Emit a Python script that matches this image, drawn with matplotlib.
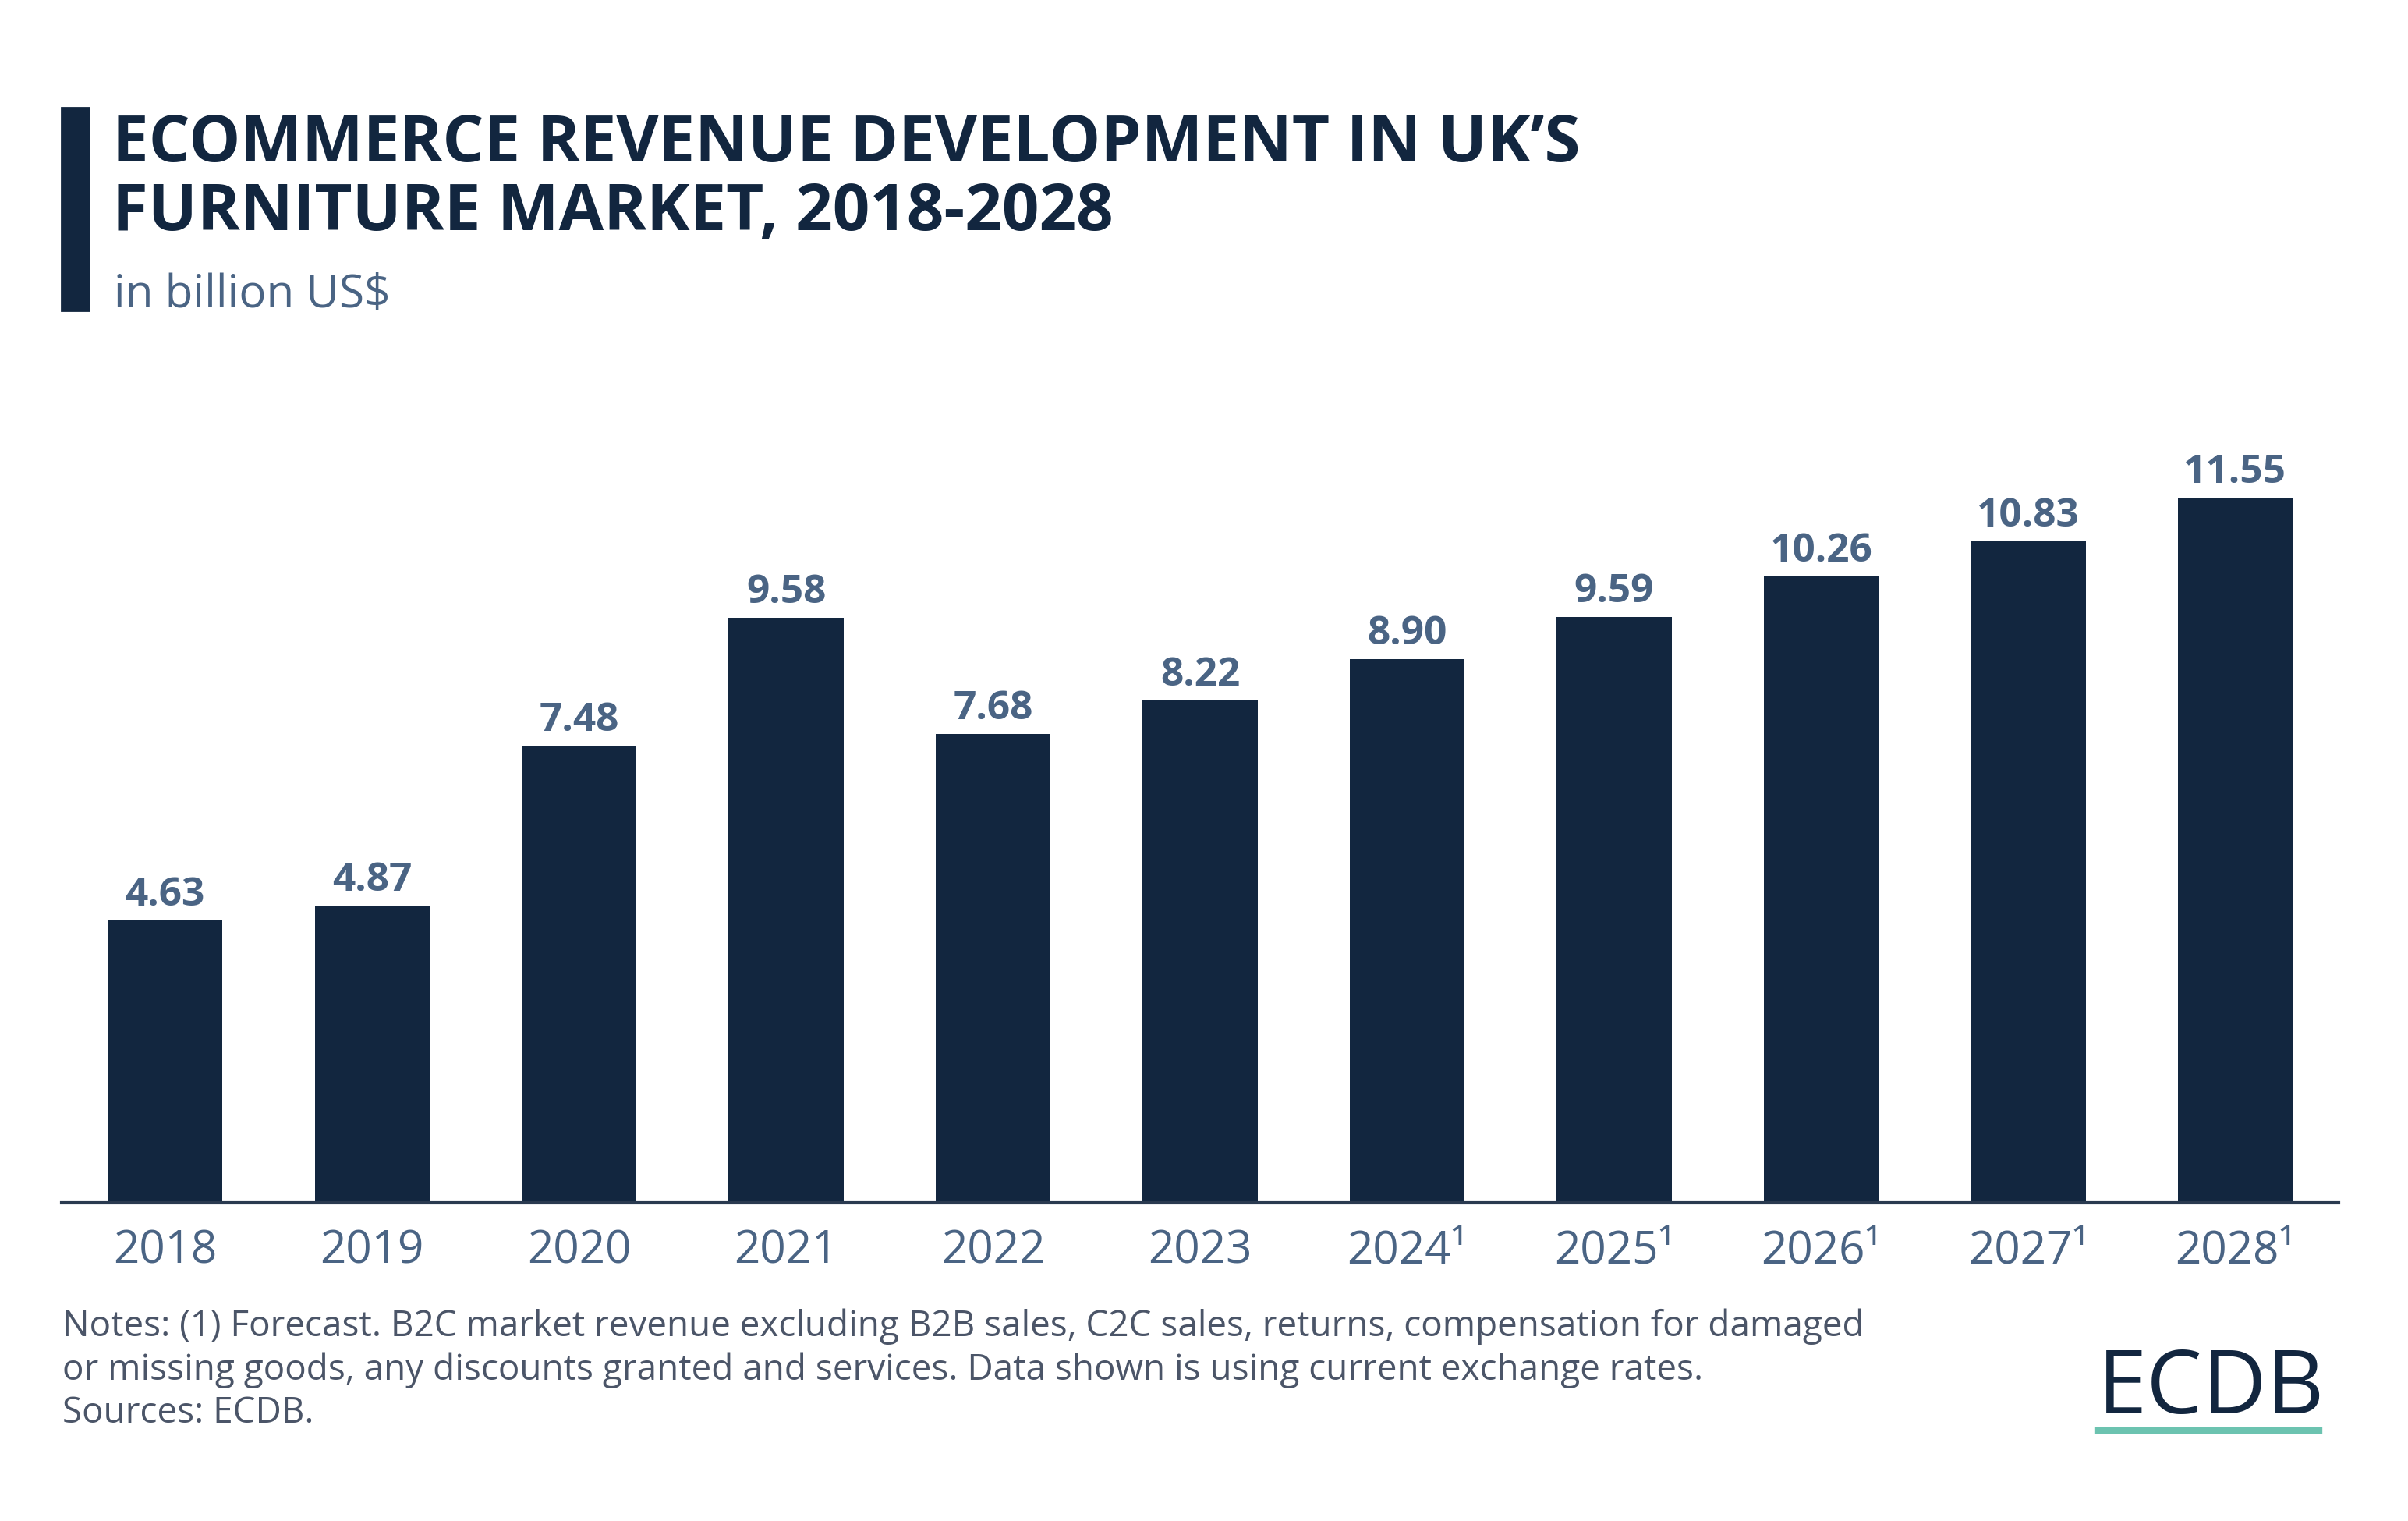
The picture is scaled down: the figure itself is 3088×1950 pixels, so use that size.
import matplotlib.pyplot as plt
from matplotlib.patches import Rectangle
from matplotlib.lines import Line2D

years = ["2018", "2019", "2020", "2021", "2022", "2023",
         "2024¹", "2025¹", "2026¹", "2027¹", "2028¹"]
revenue = [4.63, 4.87, 7.48, 9.58, 7.68, 8.22, 8.90, 9.59, 10.26, 10.83, 11.55]

navy = "#12263f"
slate = "#4a6484"
note_grey = "#4b5568"
teal = "#6cc3b0"

plt.rcParams["font.family"] = ["Open Sans", "DejaVu Sans"]

fig = plt.figure(figsize=(15.44, 9.75), dpi=200)
ax = fig.add_axes([0.0256, 0.2092, 0.9456, 0.498])

x = range(len(years))
bars = ax.bar(x, revenue, width=0.555, color=navy)
for xi, v in zip(x, revenue):
    ax.annotate(f"{v:.2f}", (xi, v), xytext=(0, 2.5), textcoords="offset points",
                ha="center", va="bottom", fontsize=18.5, fontweight="bold", color=slate)

ax.set_xlim(-0.5, 10.5)
ax.set_ylim(0, 12.4)
ax.set_xticks(list(x))
ax.set_xticklabels(years, fontsize=21, color=slate)
ax.tick_params(axis="x", length=0, pad=12)
ax.set_yticks([])
for s in ["top", "right", "left"]:
    ax.spines[s].set_visible(False)
ax.spines["bottom"].set_color("#2a3a50")
ax.spines["bottom"].set_linewidth(1.5)

# title block
fig.patches.append(Rectangle((0.0256, 0.796), 0.0113, 0.133, transform=fig.transFigure,
                             color=navy, zorder=5))
fig.text(0.0466, 0.894, "ECOMMERCE REVENUE DEVELOPMENT IN UK’S", fontsize=30,
         fontweight="bold", color=navy, va="baseline")
fig.text(0.0466, 0.8487, "FURNITURE MARKET, 2018-2028", fontsize=30,
         fontweight="bold", color=navy, va="baseline")
fig.text(0.0472, 0.798, "in billion US$", fontsize=21, color=slate, va="baseline")

# notes
notes = [
    "Notes: (1) Forecast. B2C market revenue excluding B2B sales, C2C sales, returns, compensation for damaged",
    "or missing goods, any discounts granted and services. Data shown is using current exchange rates.",
    "Sources: ECDB.",
]
for i, line in enumerate(notes):
    fig.text(0.0258, 0.1215 - i * 0.0285, line, fontsize=16.5, color=note_grey, va="baseline")

# logo
fig.text(0.871, 0.0708, "ECDB", fontsize=41, color=navy, va="baseline")
fig.lines.append(Line2D([0.871, 0.963], [0.0595, 0.0595], transform=fig.transFigure,
                        color=teal, linewidth=3))

fig.savefig("out.png", dpi=200, facecolor="white")
